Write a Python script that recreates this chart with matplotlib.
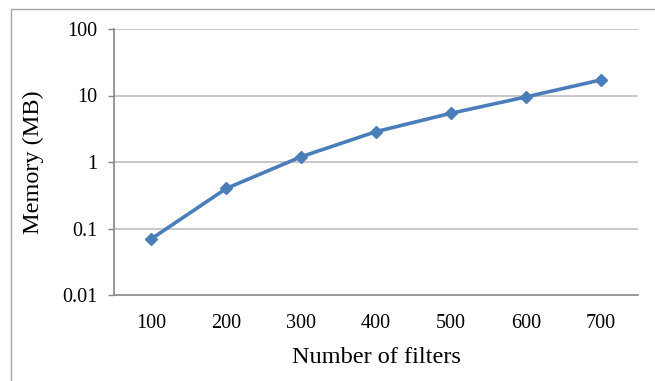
import matplotlib
matplotlib.use("Agg")
import matplotlib.pyplot as plt
from matplotlib.patches import Rectangle

filters = ["100", "200", "300", "400", "500", "600", "700"]
memory_mb = [0.07, 0.40, 1.2, 2.86, 5.4, 9.5, 17.1]
y_ticks = [0.01, 0.1, 1, 10, 100]
y_tick_labels = ["0.01", "0.1", "1", "10", "100"]

plt.rcParams['font.family'] = ['Liberation Serif', 'DejaVu Serif']

W, H = 655, 381
fig = plt.figure(figsize=(W / 100, H / 100), dpi=100)
ax = fig.add_axes([114 / W, 1 - 295 / H, (638 - 114) / W, (295 - 29) / H])

x = list(range(1, len(filters) + 1))
ax.plot(x, memory_mb, color="#4a7ebb", lw=2.6, marker="D", ms=6.5,
        markerfacecolor="#4a7ebb", markeredgecolor="#4a7ebb", zorder=3,
        solid_capstyle="round")

ax.set_yscale("log")
ax.set_ylim(0.01, 100)
ax.set_xlim(0.5, len(filters) + 0.5)
ax.set_yticks(y_ticks)
ax.set_yticklabels(y_tick_labels)
ax.yaxis.set_minor_locator(matplotlib.ticker.NullLocator())
ax.set_xticks(x)
ax.set_xticklabels(filters)

for v in y_ticks[1:]:
    ax.axhline(v, color="#bfbfbf", lw=1.2, zorder=1)

for s in ["top", "right"]:
    ax.spines[s].set_visible(False)
ax.spines["left"].set_color("#868686")
ax.spines["bottom"].set_color("#868686")
ax.spines["left"].set_linewidth(1.2)
ax.spines["bottom"].set_linewidth(1.2)

ax.tick_params(axis="y", which="major", length=4.3, width=1.0, color="#868686",
               labelsize=14.5, pad=7.5)
ax.tick_params(axis="x", which="major", length=0, labelsize=14.5, pad=13.5)

ax.set_xlabel("Number of filters", fontsize=17.5, labelpad=10)
ax.set_ylabel("Memory (MB)", fontsize=17.5, labelpad=13)

fig.patches.append(Rectangle((11 / W, -0.5), 2.0, 1 - 9 / H + 0.5,
                             transform=fig.transFigure, fill=False,
                             edgecolor="#a6a6a6", lw=1.0))

fig.savefig("out.png", dpi=100)
